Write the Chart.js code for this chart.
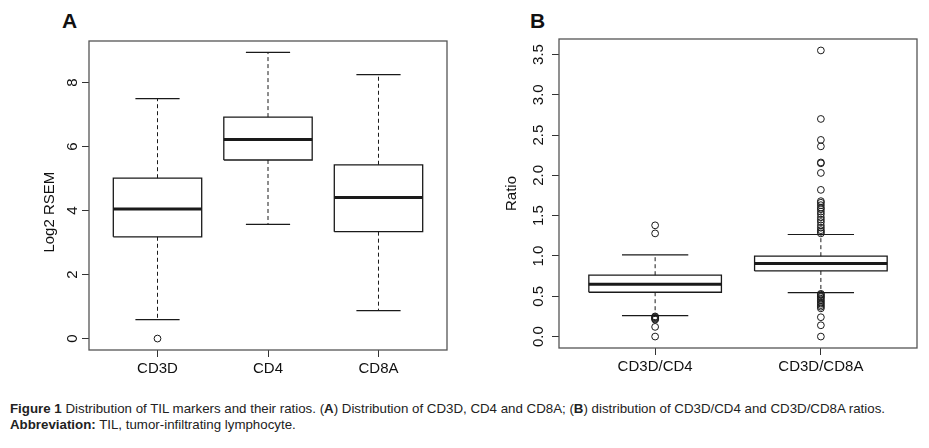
<!DOCTYPE html>
<html>
<head>
<meta charset="utf-8">
<script src="https://cdn.jsdelivr.net/npm/chart.js@4.4.0/dist/chart.umd.min.js"></script>
<style>
body { margin: 0; background: #fff; width: 929px; height: 448px; overflow: hidden; position: relative; font-family: "Liberation Sans", Arial, sans-serif; }
canvas { position: absolute; top: 0; }
#chartA { left: 0; }
#chartB { left: 460px; }
.tag { position: absolute; top: 10px; font: bold 21px/21px "Liberation Sans", Arial, sans-serif; color: #111; }
.cap { position: absolute; left: 10px; font: 13.3px/16px "Liberation Sans Narrow", "Liberation Sans", sans-serif; color: #222; white-space: nowrap; }
</style>
</head>
<body>
<div class="tag" style="left:62px">A</div>
<div class="tag" style="left:530px">B</div>
<canvas id="chartA" width="460" height="380"></canvas>
<canvas id="chartB" width="469" height="380"></canvas>
<div class="cap" style="top:401px"><b>Figure 1</b> Distribution of TIL markers and their ratios. (<b>A</b>) Distribution of CD3D, CD4 and CD8A; (<b>B</b>) distribution of CD3D/CD4 and CD3D/CD8A ratios.</div>
<div class="cap" style="top:417px"><b>Abbreviation:</b> TIL, tumor-infiltrating lymphocyte.</div>
<script>
// Panel A: TIL marker expression (Log2 RSEM)
const markerNames = ['CD3D', 'CD4', 'CD8A'];
const markerLow = [0.59, 3.57, 0.87];
const markerQ1 = [3.18, 5.58, 3.34];
const markerMedian = [4.05, 6.22, 4.41];
const markerQ3 = [5.01, 6.92, 5.43];
const markerHigh = [7.50, 8.94, 8.25];
const markerOutliers = [[0.0], [], []];
const markerTicks = [0, 2, 4, 6, 8];
const markerTickLabels = ['0', '2', '4', '6', '8'];

// Panel B: ratios
const ratioNames = ['CD3D/CD4', 'CD3D/CD8A'];
const ratioLow = [0.26, 0.546];
const ratioQ1 = [0.55, 0.814];
const ratioMedian = [0.649, 0.906];
const ratioQ3 = [0.761, 0.997];
const ratioHigh = [1.013, 1.266];
const ratioOutliers = [
    [1.38, 1.28, 0.25, 0.24, 0.23, 0.22, 0.21, 0.12, 0.0],
    [3.55, 2.70, 2.44, 2.36, 2.16, 2.15, 2.03, 1.82,
     1.68, 1.66, 1.63, 1.60, 1.58, 1.55, 1.52, 1.48, 1.45, 1.42, 1.38, 1.35, 1.32, 1.30, 1.28,
     0.53, 0.52, 0.50, 0.49, 0.47, 0.45, 0.43, 0.41, 0.39, 0.37, 0.35, 0.24, 0.14, 0.0]
];
const ratioTicks = [0, 0.5, 1, 1.5, 2, 2.5, 3, 3.5];
const ratioTickLabels = ['0.0', '0.5', '1.0', '1.5', '2.0', '2.5', '3.0', '3.5'];

const ink = '#1a1a1a';
const frameColor = '#555';

function segment(points, width, dash) {
    return {
        data: points,
        showLine: true,
        borderColor: ink,
        borderWidth: width,
        borderDash: dash || [],
        pointRadius: 0,
        tension: 0,
        fill: false
    };
}

function boxDatasets(low, q1, med, q3, high, outliers) {
    const sets = [];
    const hw = 0.4;   // half box width
    const cw = 0.2;   // half staple width
    low.forEach(function(_, i) {
        const x = i + 1;
        sets.push(segment([{x: x, y: q3[i]}, {x: x, y: high[i]}], 1, [4, 3]));
        sets.push(segment([{x: x, y: q1[i]}, {x: x, y: low[i]}], 1, [4, 3]));
        sets.push(segment([{x: x - cw, y: high[i]}, {x: x + cw, y: high[i]}], 1.2));
        sets.push(segment([{x: x - cw, y: low[i]}, {x: x + cw, y: low[i]}], 1.2));
        const box = segment([
            {x: x - hw, y: q1[i]}, {x: x + hw, y: q1[i]},
            {x: x + hw, y: q3[i]}, {x: x - hw, y: q3[i]},
            {x: x - hw, y: q1[i]}
        ], 1.3);
        box.backgroundColor = '#fff';
        box.fill = true;
        sets.push(box);
        sets.push(segment([{x: x - hw, y: med[i]}, {x: x + hw, y: med[i]}], 3));
        sets.push({
            data: outliers[i].map(function(v) { return {x: x, y: v}; }),
            pointStyle: 'circle',
            pointRadius: 3.4,
            pointBorderWidth: 1,
            pointBorderColor: ink,
            pointBackgroundColor: 'rgba(0,0,0,0)',
            showLine: false
        });
    });
    return sets;
}

const framePlugin = {
    id: 'frame',
    afterDraw: function(chart) {
        const a = chart.chartArea;
        const c = chart.ctx;
        c.save();
        c.strokeStyle = frameColor;
        c.lineWidth = 1.3;
        c.strokeRect(a.left, a.top, a.right - a.left, a.bottom - a.top);
        c.restore();
    }
};

function makeChart(id, cfg) {
    const n = cfg.names.length;
    let lo = Infinity, hi = -Infinity;
    cfg.low.forEach(function(v, i) {
        lo = Math.min(lo, v, ...cfg.outliers[i]);
        hi = Math.max(hi, cfg.high[i], ...cfg.outliers[i]);
    });
    const pad = (hi - lo) * 0.04;
    const axisGrid = {drawOnChartArea: false, drawTicks: true, tickLength: 7, tickColor: '#333', tickWidth: 1};
    return new Chart(document.getElementById(id), {
        type: 'scatter',
        data: {datasets: boxDatasets(cfg.low, cfg.q1, cfg.med, cfg.q3, cfg.high, cfg.outliers)},
        plugins: [framePlugin],
        options: {
            responsive: false,
            animation: false,
            layout: {padding: cfg.padding},
            plugins: {legend: {display: false}, tooltip: {enabled: false}},
            scales: {
                x: {
                    type: 'linear',
                    min: 0.5 - 0.04 * n,
                    max: n + 0.5 + 0.04 * n,
                    afterBuildTicks: function(s) { s.ticks = cfg.names.map(function(_, i) { return {value: i + 1}; }); },
                    afterFit: function(s) { s.height = cfg.xHeight; },
                    grid: axisGrid,
                    border: {display: false},
                    ticks: {
                        autoSkip: false, maxRotation: 0, padding: 3,
                        color: '#111', font: {size: 15},
                        callback: function(v, i) { return cfg.names[i]; }
                    }
                },
                y: {
                    type: 'linear',
                    min: lo - pad,
                    max: hi + pad,
                    afterBuildTicks: function(s) { s.ticks = cfg.ticks.map(function(v) { return {value: v}; }); },
                    afterFit: function(s) { s.width = cfg.yWidth; },
                    grid: axisGrid,
                    border: {display: false},
                    ticks: {
                        autoSkip: false, minRotation: 90, maxRotation: 90, crossAlign: 'center',
                        padding: cfg.tickPad, color: '#111', font: {size: 15},
                        callback: function(v, i) { return cfg.tickLabels[i]; }
                    },
                    title: {
                        display: true, text: cfg.title, color: '#111',
                        font: {size: 15}, padding: {top: cfg.titlePad}
                    }
                }
            }
        }
    });
}

makeChart('chartA', {
    names: markerNames, low: markerLow, q1: markerQ1, med: markerMedian, q3: markerQ3,
    high: markerHigh, outliers: markerOutliers, ticks: markerTicks, tickLabels: markerTickLabels,
    title: 'Log2 RSEM        ', titlePad: 41, tickPad: 5, yWidth: 89, xHeight: 30,
    padding: {left: 0, top: 41, right: 13, bottom: 0}
});

makeChart('chartB', {
    names: ratioNames, low: ratioLow, q1: ratioQ1, med: ratioMedian, q3: ratioQ3,
    high: ratioHigh, outliers: ratioOutliers, ticks: ratioTicks, tickLabels: ratioTickLabels,
    title: 'Ratio', titlePad: 43, tickPad: 3, yWidth: 99, xHeight: 32,
    padding: {left: 0, top: 39, right: 12, bottom: 0}
});
</script>
</body>
</html>
